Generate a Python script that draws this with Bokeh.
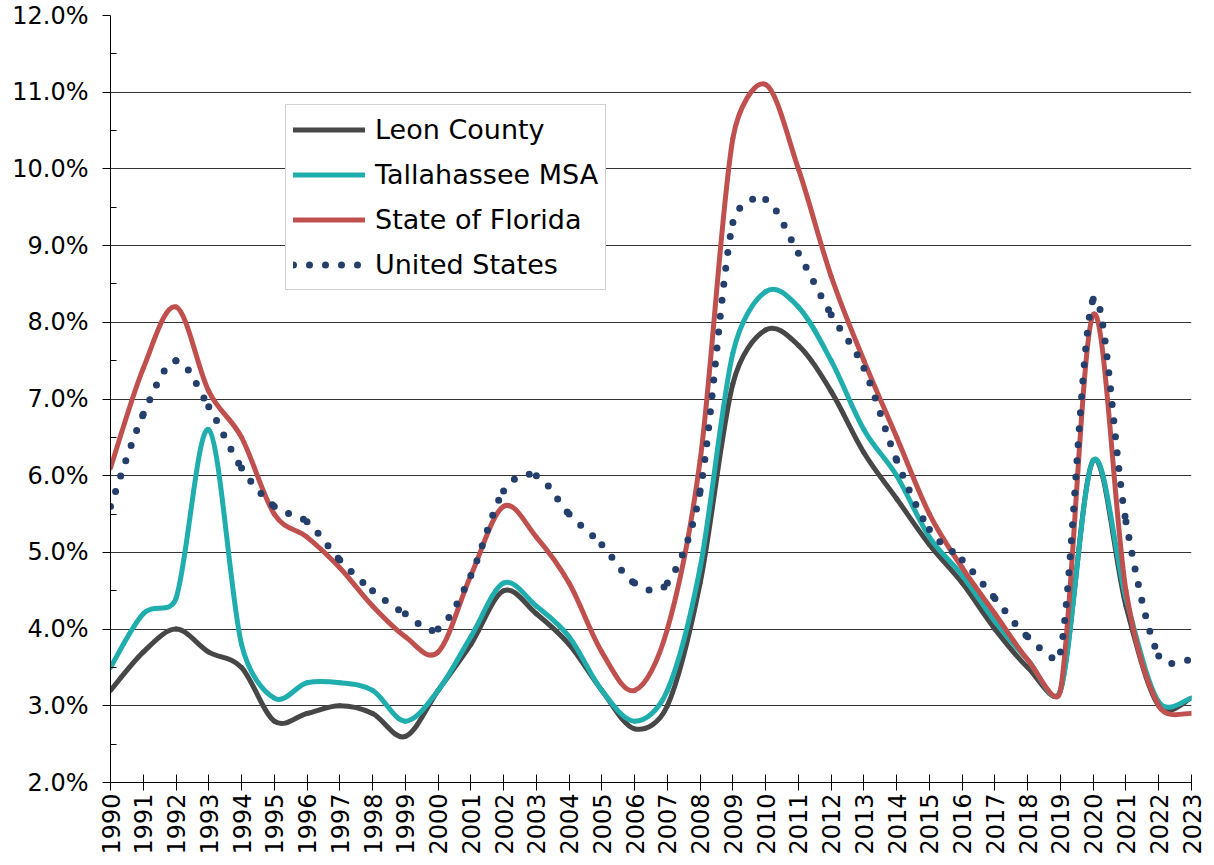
import numpy as np
from bokeh.plotting import figure
from bokeh.models import FixedTicker, PrintfTickFormatter, Legend, LegendItem, Range1d, ColumnDataSource
from bokeh.embed import file_html
from bokeh.resources import INLINE

years = list(range(1990, 2024))
leon_county = [3.2, 3.7, 4.0, 3.7, 3.5, 2.8, 2.9, 3.0, 2.9, 2.6,
               3.2, 3.8, 4.5, 4.2, 3.8, 3.2, 2.7, 3.0, 4.6, 7.2,
               7.9, 7.7, 7.1, 6.3, 5.7, 5.1, 4.6, 4.0, 3.5, 3.2,
               6.2, 4.3, 3.0, 3.1]
tallahassee_msa = [3.5, 4.2, 4.4, 6.6, 3.8, 3.1, 3.3, 3.3, 3.2, 2.8,
                   3.2, 3.9, 4.6, 4.3, 3.9, 3.2, 2.8, 3.2, 4.8, 7.6,
                   8.4, 8.2, 7.5, 6.6, 6.0, 5.2, 4.7, 4.1, 3.6, 3.2,
                   6.2, 4.4, 3.05, 3.1]
state_of_florida = [6.1, 7.4, 8.2, 7.1, 6.5, 5.5, 5.2, 4.8, 4.3, 3.9,
                    3.7, 4.7, 5.6, 5.2, 4.6, 3.7, 3.2, 4.0, 6.2, 10.4,
                    11.1, 10.0, 8.6, 7.5, 6.5, 5.5, 4.8, 4.2, 3.6, 3.2,
                    8.1, 4.5, 3.0, 2.9]
united_states = [5.6, 6.8, 7.5, 6.9, 6.1, 5.6, 5.4, 4.9, 4.5, 4.2,
                 4.0, 4.7, 5.8, 6.0, 5.5, 5.1, 4.6, 4.6, 5.8, 9.3,
                 9.6, 8.9, 8.1, 7.4, 6.2, 5.3, 4.9, 4.4, 3.9, 3.7,
                 8.3, 5.4, 3.65, 3.6]

names = ["Leon County", "Tallahassee MSA", "State of Florida", "United States"]
series = [leon_county, tallahassee_msa, state_of_florida, united_states]
colors = ["#474747", "#20adad", "#c0504d", "#243f6b"]

FRAME_W, FRAME_H = 1081, 767
SX = FRAME_W / (years[-1] - years[0])   # px per year
SY = FRAME_H / 10.0                      # px per percentage point


def smooth_source(xs, ys, t=1.0 / 6.0, cap=0.5):
    # Catmull-Rom style Bezier handles (computed in screen space), each
    # handle capped to a fraction of its own segment length
    X = np.asarray(xs, float) * SX
    Y = np.asarray(ys, float) * SY
    n = len(X)
    tan = np.zeros((n, 2))
    for i in range(n):
        a, b = max(i - 1, 0), min(i + 1, n - 1)
        tan[i] = np.array([X[b] - X[a], Y[b] - Y[a]]) * t
    L = np.hypot(np.diff(X), np.diff(Y))

    def limit(v, lim):
        m = np.hypot(*v)
        return v * (lim / m) if m > lim else v

    h0 = np.array([limit(tan[i], cap * L[i]) for i in range(n - 1)])
    h1 = np.array([limit(tan[i + 1], cap * L[i]) for i in range(n - 1)])
    return ColumnDataSource(dict(
        x0=X[:-1] / SX, y0=Y[:-1] / SY, x1=X[1:] / SX, y1=Y[1:] / SY,
        cx0=(X[:-1] + h0[:, 0]) / SX, cy0=(Y[:-1] + h0[:, 1]) / SY,
        cx1=(X[1:] - h1[:, 0]) / SX, cy1=(Y[1:] - h1[:, 1]) / SY))


p = figure(width=1206, height=857, output_backend="svg", toolbar_location=None,
           x_range=Range1d(years[0], years[-1]), y_range=Range1d(2, 12),
           min_border_left=110, min_border_right=15, min_border_top=15, min_border_bottom=72)
p.outline_line_color = None
p.background_fill_color = "white"
p.border_fill_color = "white"

FONT = "DejaVu Sans"

p.yaxis.ticker = FixedTicker(ticks=list(range(2, 13)), minor_ticks=[v + 0.5 for v in range(2, 12)])
p.yaxis.formatter = PrintfTickFormatter(format="%.1f%%")
p.yaxis.major_tick_out = 8
p.yaxis.major_tick_in = 0
p.yaxis.minor_tick_in = 6
p.yaxis.minor_tick_out = 0
p.yaxis.major_label_standoff = 14
p.xaxis.ticker = FixedTicker(ticks=years)
p.xaxis.major_tick_in = 8
p.xaxis.major_tick_out = 8
p.xaxis.minor_tick_in = 0
p.xaxis.minor_tick_out = 0
p.xaxis.major_label_orientation = np.pi / 2
p.xaxis.major_label_standoff = 3
for ax in (p.xaxis, p.yaxis):
    ax.axis_line_color = "black"
    ax.axis_line_width = 1
    ax.major_tick_line_color = "black"
    ax.minor_tick_line_color = "black"
    ax.major_label_text_font = FONT
    ax.major_label_text_font_size = "24px"
    ax.major_label_text_color = "black"

p.xgrid.visible = False
p.ygrid.ticker = FixedTicker(ticks=list(range(3, 12)))
p.ygrid.grid_line_color = "#333333"
p.ygrid.grid_line_width = 1

items = []
for name, ys, col in zip(names, series, colors):
    src = smooth_source(years, ys)
    if name == "United States":
        kw = dict(line_width=7, line_dash="0 16", line_cap="round")
    else:
        kw = dict(line_width=5, line_cap="round", line_join="round")
    p.bezier(x0="x0", y0="y0", x1="x1", y1="y1", cx0="cx0", cy0="cy0",
             cx1="cx1", cy1="cy1", source=src, line_color=col, **kw)
    dummy = p.line(x=[np.nan], y=[np.nan], line_color=col, **kw)
    items.append(LegendItem(label=name, renderers=[dummy]))

legend = Legend(items=items, location=(175, 492), orientation="vertical",
                label_text_font=FONT, label_text_font_size="27px", label_text_color="black",
                glyph_width=72, glyph_height=35, label_height=35, spacing=10,
                padding=7, label_standoff=10, margin=0,
                border_line_color="#a6a6a6", border_line_width=1,
                background_fill_color="white", background_fill_alpha=1.0)
p.add_layout(legend, "center")

open("out.html", "w").write(file_html(p, INLINE))
